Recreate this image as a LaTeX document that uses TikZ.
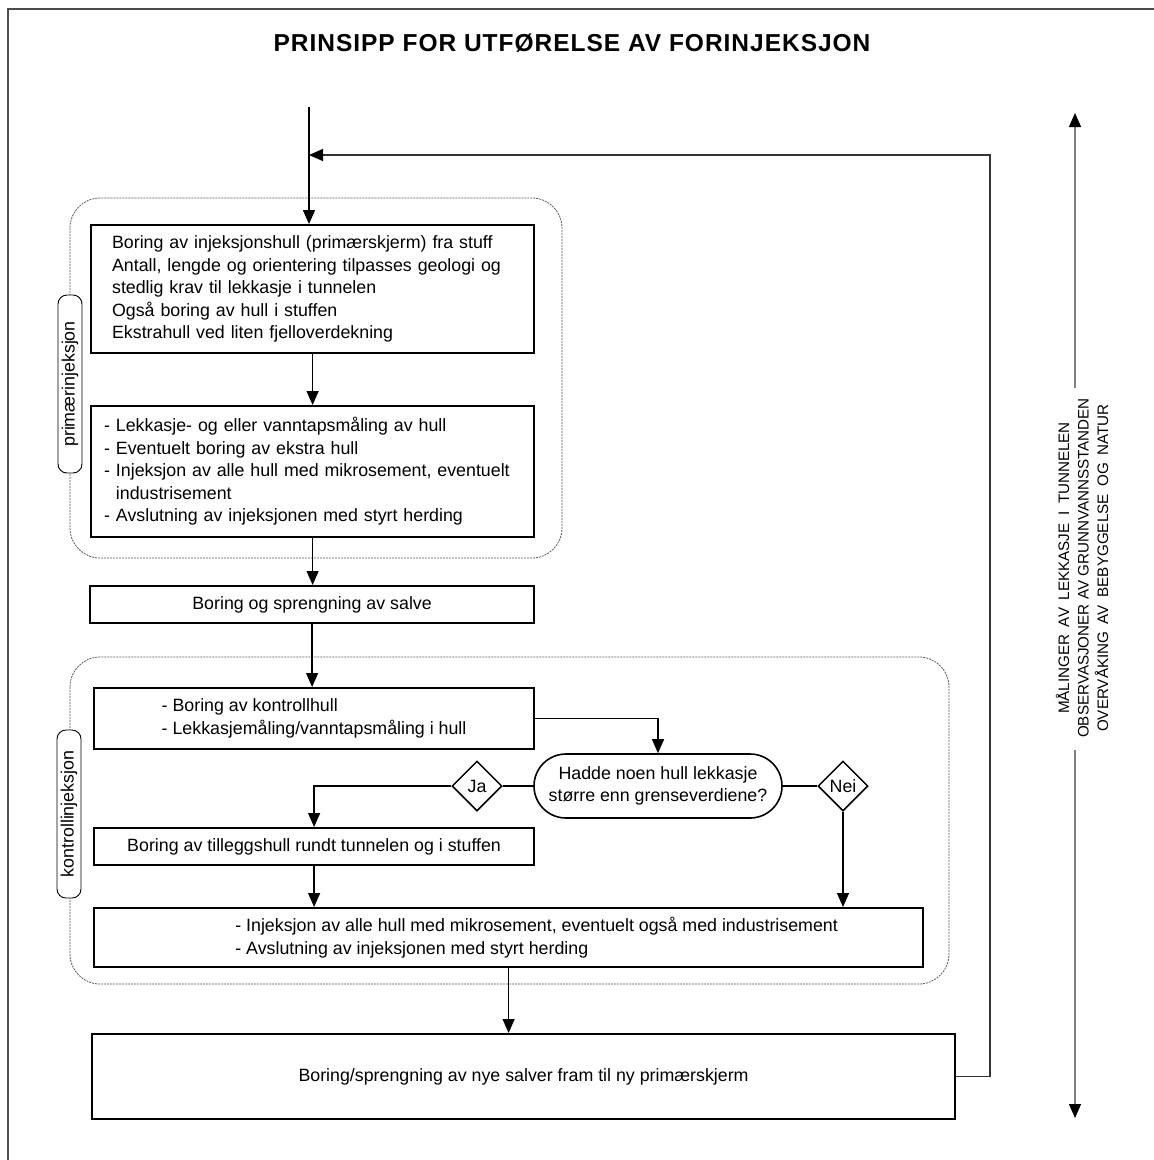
\documentclass[tikz,border=0pt]{standalone}
\usepackage{fontspec}
\setmainfont{Liberation Sans}
\usepackage{tikz}
\usetikzlibrary{arrows.meta,shapes.geometric,shapes.misc}

\begin{document}
\begin{tikzpicture}[x=1pt,y=-1pt,
    every node/.style={font=\fontsize{17.8}{22.5}\selectfont},
    box/.style={draw,line width=2.2pt,anchor=north west,align=left,inner sep=0pt},
    region/.style={draw=black!65,line width=0.8pt,dash pattern=on 2pt off 1pt,rounded corners=30pt},
    pill/.style={draw,fill=white,rotate=90,rounded corners=9pt,line width=0.9pt,
                 minimum height=24pt,inner sep=0pt},
    decision/.style={rounded rectangle,draw,line width=1.6pt,align=center,
                     minimum width=248pt,minimum height=64pt,inner sep=0pt},
    answer/.style={diamond,draw,line width=1.5pt,minimum width=50pt,minimum height=50pt,inner sep=0pt},
    flow/.style={line width=1.3pt,-{Triangle[width=12pt,length=14pt]}},
    feed/.style={line width=1.2pt,draw=black!80,-{Triangle[width=12pt,length=14pt,color=black]}},
    side/.style={line width=1.3pt,draw=black!50,-{Triangle[width=12pt,length=14pt,color=black]}}]

  \useasboundingbox (0,0) rectangle (1154,1160);

  % --- frame and heading ---
  \draw[line width=1.4pt,black!70] (8,1160) -- (8,9) -- (1154,9);
  \node[font=\fontsize{24.5}{28}\selectfont\bfseries\addfontfeature{LetterSpace=4}] (title) at (572,43)
       {PRINSIPP FOR UTFØRELSE AV FORINJEKSJON};

  % --- the two phases, dashed ---
  \draw[region] (70,198) rectangle (562,558);
  \draw[region] (70,657) rectangle (949,984);
  \node[pill,minimum width=178pt] (primlabel) at (70,384) {primærinjeksjon};
  \node[pill,minimum width=168pt] (kontlabel) at (69,814) {kontrollinjeksjon};

  % --- primary injection ---
  \coordinate (start) at (309,107);
  \coordinate (loop) at (990,155);
  \node[box,text width=401pt,minimum width=443pt,minimum height=128pt] (primboring) at (90,224)
       {Boring av injeksjonshull (primærskjerm) fra stuff\\
        Antall, lengde og orientering tilpasses geologi og\\
        stedlig krav til lekkasje i tunnelen\\
        Også boring av hull i stuffen\\
        Ekstrahull ved liten fjelloverdekning};
  \node[box,text width=417pt,minimum width=443pt,minimum height=131pt] (primmaal) at (90,405)
       {- Lekkasje- og eller vanntapsmåling av hull\\
        - Eventuelt boring av ekstra hull\\
        - Injeksjon av alle hull med mikrosement, eventuelt\\
        \hphantom{-} industrisement\\
        - Avslutning av injeksjonen med styrt herding};
  \node[box,align=center,minimum width=444pt,minimum height=37pt] (salve) at (89,585)
       {Boring og sprengning av salve};

  % --- control injection ---
  \node[box,minimum width=440pt,minimum height=61pt] (kontroll) at (93,687)
       {- Boring av kontrollhull\\
        - Lekkasjemåling/vanntapsmåling i hull};
  \node[decision] (sporsmal) at (658,786)
       {Hadde noen hull lekkasje\\større enn grenseverdiene?};
  \node[answer] (ja) at (477,786) {Ja};
  \node[answer] (nei) at (843,786) {Nei};
  \node[box,align=center,minimum width=440pt,minimum height=37pt] (tillegg) at (93,827)
       {Boring av tilleggshull rundt tunnelen og i stuffen};
  \node[box,minimum width=829pt,minimum height=59pt] (injeksjon) at (93,907)
       {\hspace*{56pt}- Injeksjon av alle hull med mikrosement, eventuelt også med industrisement\\
        \hspace*{56pt}- Avslutning av injeksjonen med styrt herding};
  \node[box,align=center,minimum width=863pt,minimum height=85pt] (nyesalver) at (91,1033)
       {Boring/sprengning av nye salver fram til ny primærskjerm};

  % --- connectors ---
  \draw[flow,line width=1.8pt] (start) -- (start |- primboring.north);
  \draw[feed] (nyesalver.east) -| (loop) -- (loop -| start);
  \draw[flow] (primboring.south) -- (primmaal.north);
  \draw[flow] (primmaal.south) -- (primmaal.south |- salve.north);
  \draw[flow] (salve.south) -- (salve.south |- kontroll.north);
  \draw[flow] (kontroll.east) -| (sporsmal.north);
  \draw[line width=1.3pt] (sporsmal.west) -- (ja.east);
  \draw[line width=1.3pt] (sporsmal.east) -- (nei.west);
  \draw[flow] (ja.west) -| (tillegg.north);
  \draw[flow] (nei.south) -- (nei.south |- injeksjon.north);
  \draw[flow] (tillegg.south) -- (tillegg.south |- injeksjon.north);
  \draw[flow] (injeksjon.south) -- (injeksjon.south |- nyesalver.north);

  % --- monitoring, right margin ---
  \node[rotate=90,align=center,font=\fontsize{15.2}{19.5}\selectfont] (maaling) at (1082,568)
       {MÅLINGER\enspace AV\enspace LEKKASJE\enspace I\enspace TUNNELEN\\
        OBSERVASJONER AV GRUNNVANNSSTANDEN\\
        OVERVÅKING\enspace AV\enspace BEBYGGELSE\enspace OG\enspace NATUR};
  \coordinate (opp) at (1075,113);
  \coordinate (oppfot) at (1075,388);
  \coordinate (ned) at (1075,1118);
  \coordinate (nedfot) at (1075,750);
  \draw[side] (oppfot) -- (opp);
  \draw[side] (nedfot) -- (ned);
\end{tikzpicture}
\end{document}
